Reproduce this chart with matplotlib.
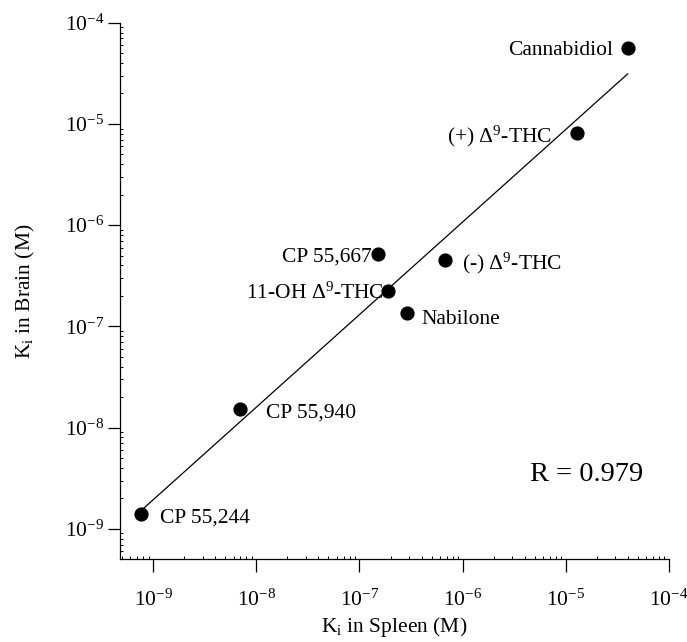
"""
Ki en cerebro contra Ki en bazo, escala log-log, con recta de ajuste.
"""

import numpy as np
from matplotlib import pyplot as plt
from matplotlib.ticker import NullFormatter

#%%

compuestos = [
    'CP 55,244', 'CP 55,940', 'CP 55,667', r'(-) $\Delta^9$-THC',
    r'11-OH $\Delta^9$-THC', 'Nabilone', 'Cannabidiol', r'(+) $\Delta^9$-THC',
]
ki_bazo = [7.6e-10, 6.9e-9, 1.5e-7, 6.8e-7, 1.9e-7, 2.9e-7, 4.0e-5, 1.28e-5]
ki_cerebro = [1.41e-9, 1.52e-8, 5.15e-7, 4.5e-7, 2.24e-7, 1.35e-7, 5.6e-5, 8.2e-6]
texto_r = 'R = 0.979'

# desplazamiento de cada etiqueta (puntos) y alineacion
posicion_etiquetas = {
    'CP 55,244': ((14, -1.5), 'left'),
    'CP 55,940': ((19, -1), 'left'),
    'CP 55,667': ((-4, 0), 'right'),
    r'(-) $\Delta^9$-THC': ((12, 0), 'left'),
    r'11-OH $\Delta^9$-THC': ((-3, 0), 'right'),
    'Nabilone': ((10, -3), 'left'),
    'Cannabidiol': ((-10.5, 0), 'right'),
    r'(+) $\Delta^9$-THC': ((-18, 0), 'right'),
}

#%%

def grafico():
    """
    Dibuja el grafico y lo guarda en out.png
    """

    plt.rcParams['font.family'] = ['Liberation Serif', 'DejaVu Serif']
    plt.rcParams['mathtext.fontset'] = 'custom'
    plt.rcParams['mathtext.rm'] = 'Liberation Serif'
    plt.rcParams['mathtext.it'] = 'Liberation Serif:italic'
    plt.rcParams['mathtext.fallback'] = 'stix'

    fig = plt.figure(figsize=(6.87, 6.42), dpi=100)
    ax = fig.add_axes([0.174, 0.1288, 0.7994, 0.8358])

    x = np.array(ki_bazo)
    y = np.array(ki_cerebro)

    # Recta de regresion en escala logaritmica
    pendiente, intercepto = np.polyfit(np.log10(x), np.log10(y), 1)
    x_linea = np.array([x.min(), x.max()])
    y_linea = 10 ** (intercepto + pendiente * np.log10(x_linea))
    ax.plot(x_linea, y_linea, color='black', linewidth=0.9, zorder=2)

    ax.scatter(x, y, s=85, color='black', zorder=3)

    for nombre, xi, yi in zip(compuestos, x, y):
        desplazamiento, alineacion = posicion_etiquetas[nombre]
        ax.annotate(
            nombre, (xi, yi),
            xytext=desplazamiento, textcoords='offset points',
            ha=alineacion, va='center_baseline', fontsize=15.5,
        )

    ax.text(0.747, 0.163, texto_r, transform=ax.transAxes,
            ha='left', va='center_baseline', fontsize=20.5)

    ax.set_xscale('log')
    ax.set_yscale('log')
    ax.set_xlim(4.7e-10, 1e-4)
    ax.set_ylim(5.0e-10, 1e-4)
    ax.xaxis.set_minor_formatter(NullFormatter())
    ax.yaxis.set_minor_formatter(NullFormatter())

    ax.spines['top'].set_visible(False)
    ax.spines['right'].set_visible(False)
    ax.spines['left'].set_linewidth(0.9)
    ax.spines['bottom'].set_linewidth(0.9)

    ax.tick_params(which='major', direction='out', length=9, width=0.9,
                   labelsize=15.5)
    ax.tick_params(which='minor', direction='in', length=2.5, width=0.7)
    ax.tick_params(axis='x', which='major', pad=13)
    ax.tick_params(axis='y', which='major', pad=2)

    ax.set_xlabel(r'$\mathrm{K_i}$ in Spleen (M)', fontsize=15.5, labelpad=3)
    ax.set_ylabel(r'$\mathrm{K_i}$ in Brain (M)', fontsize=15.5, labelpad=20)

    fig.savefig('out.png', dpi=100)
    plt.close(fig)


if __name__ == '__main__':
    grafico()
